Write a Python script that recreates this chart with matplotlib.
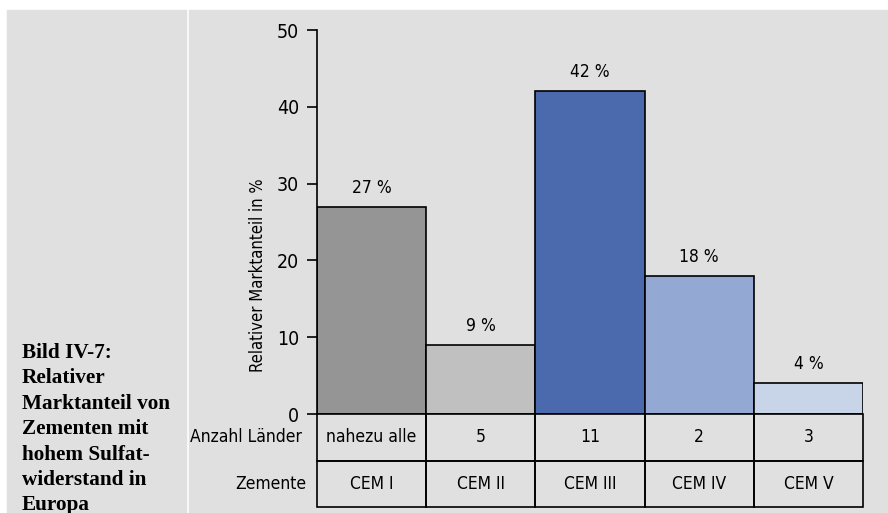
import matplotlib.pyplot as plt
from matplotlib.patches import Rectangle

# Daten
zemente = ["CEM I", "CEM II", "CEM III", "CEM IV", "CEM V"]
anteil = [27, 9, 42, 18, 4]
laender = ["nahezu alle", "5", "11", "2", "3"]
farben = ["#959595", "#c0c0c0", "#4a6aad", "#93a8d3", "#c8d4e8"]
yticks = [0, 10, 20, 30, 40, 50]

W, H = 888, 513
plt.rcParams['font.family'] = ['DejaVu Sans']
plt.rcParams['font.stretch'] = 'condensed'

fig = plt.figure(figsize=(W / 100, H / 100), dpi=100)
fig.patch.set_facecolor("white")


def px(x0, y0, x1, y1):
    # Pixel-Rechteck (oben links als Ursprung) -> Figurkoordinaten
    return [x0 / W, 1 - y1 / H, (x1 - x0) / W, (y1 - y0) / H]


bg = "#e0e0e0"
fig.patches.append(Rectangle((7 / W, 0), (186 - 7) / W, 1 - 10 / H,
                             transform=fig.transFigure, color=bg, zorder=-5))
fig.patches.append(Rectangle((189 / W, 0), (W - 189) / W, 1 - 10 / H,
                             transform=fig.transFigure, color=bg, zorder=-5))

fig.text(22 / W, 1 - 343 / H,
         "Bild IV-7:\nRelativer\nMarktanteil von\nZementen mit\nhohem Sulfat-\nwiderstand in\nEuropa",
         family="Liberation Serif", weight="bold", fontsize=15.3, va="top",
         ha="left", linespacing=1.36, stretch="normal")

# Balkendiagramm
ax = fig.add_axes(px(317, 30, 863, 414))
ax.set_facecolor("none")
x = range(len(zemente))
ax.bar(x, anteil, width=1.0, color=farben, edgecolor="black", linewidth=1.2)
for i, v in enumerate(anteil):
    ax.text(i, v + 1.3, f"{v} %", ha="center", va="bottom", fontsize=12.5)
ax.set_xlim(-0.5, 4.5)
ax.set_ylim(0, 50)
ax.set_yticks(yticks)
ax.tick_params(axis="y", labelsize=14, length=7, width=1.2, pad=6)
ax.set_xticks([])
for s in ["top", "right", "bottom"]:
    ax.spines[s].set_visible(False)
ax.spines["left"].set_linewidth(1.2)
ax.set_ylabel("Relativer Marktanteil in %", fontsize=12)
ax.yaxis.set_label_coords(-0.092, 0.362)

# Tabelle unter dem Diagramm
tab = fig.add_axes(px(317, 414, 863, 507))
tab.set_xlim(-0.5, 4.5)
tab.set_ylim(0, 2)
tab.axis("off")
for i in range(len(zemente)):
    for row, txt in [(1, laender[i]), (0, zemente[i])]:
        tab.add_patch(Rectangle((i - 0.5, row), 1, 1, facecolor="none",
                                edgecolor="black", linewidth=1.2, clip_on=False))
        tab.text(i, row + 0.5, txt, ha="center", va="center", fontsize=12.5)
tab.text(-0.64, 1.5, "Anzahl Länder", ha="right", va="center", fontsize=12.5)
tab.text(-0.6, 0.5, "Zemente", ha="right", va="center", fontsize=12.5)

fig.savefig("out.png", dpi=100, facecolor=fig.get_facecolor())
